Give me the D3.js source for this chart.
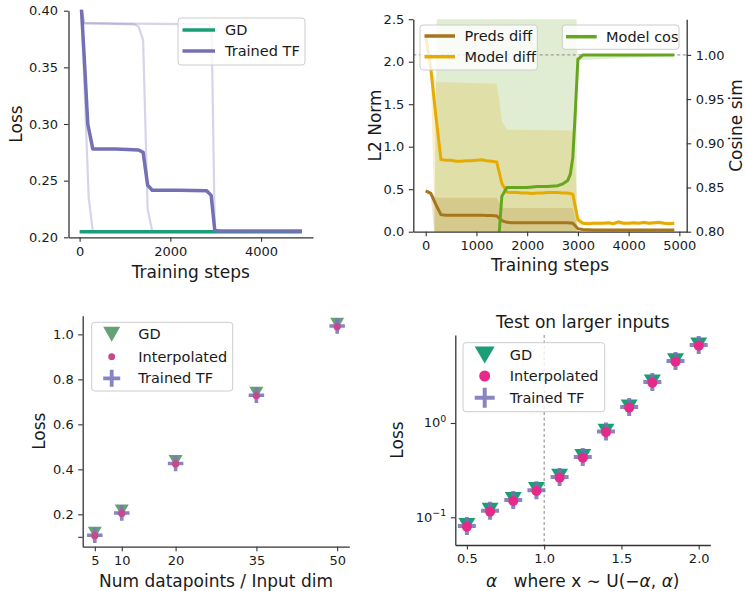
<!DOCTYPE html>
<html>
<head>
<meta charset="utf-8">
<script src="https://cdn.jsdelivr.net/npm/d3@7"></script>
<style>
  body { margin: 0; background: #fff; }
  svg text { font-family: "DejaVu Sans", sans-serif; fill: #1a1a1a; white-space: pre; }
</style>
</head>
<body>
<svg id="fig" width="746" height="591"></svg>
<script>
// ---------- Panel A: training loss curves ----------
const gdSteps = [0, 4900];
const gdLoss = [0.205, 0.205];
const tfMeanSteps = [0, 100, 180, 290, 800, 1300, 1400, 1500, 1600, 2200, 2800, 2900, 2980, 3100, 4900];
const tfMeanLoss = [0.43, 0.36, 0.30, 0.278, 0.278, 0.277, 0.275, 0.246, 0.2415, 0.2415, 0.241, 0.237, 0.206, 0.2055, 0.2055];
const runASteps = [0, 100, 200, 290, 4900];
const runALoss = [0.44, 0.34, 0.235, 0.2055, 0.2055];
const runBSteps = [0, 100, 1200, 1300, 1400, 1500, 1600, 4900];
const runBLoss = [0.41, 0.389, 0.388, 0.386, 0.374, 0.225, 0.2055, 0.2055];
const runCSteps = [0, 100, 2850, 2910, 2980, 4900];
const runCLoss = [0.41, 0.389, 0.388, 0.383, 0.2055, 0.2055];
const lossTicksA = [0.20, 0.25, 0.30, 0.35, 0.40];
const stepTicksA = [0, 2000, 4000];

// ---------- Panel B: distance / similarity to GD ----------
const normSteps = [0,100,200,300,400,500,600,700,800,900,1000,1100,1200,1300,1400,1500,1600,1700,1800,1900,
  2000,2100,2200,2300,2400,2500,2600,2700,2800,2900,3000,3100,3200,3300,3400,3500,3600,3700,3800,3900,
  4000,4100,4200,4300,4400,4500,4600,4700,4800,4900];
const modelDiff = [2.30,1.92,1.36,0.85,0.84,0.84,0.83,0.83,0.835,0.835,0.84,0.845,0.835,0.83,0.82,0.57,0.465,0.46,0.46,0.455,
  0.455,0.45,0.455,0.455,0.46,0.46,0.46,0.455,0.455,0.44,0.14,0.10,0.095,0.10,0.10,0.10,0.105,0.095,0.115,0.10,
  0.10,0.105,0.10,0.11,0.10,0.105,0.11,0.10,0.095,0.10];
const predsDiff = [0.48,0.45,0.32,0.20,0.195,0.195,0.195,0.195,0.195,0.195,0.195,0.195,0.19,0.19,0.185,0.13,0.11,0.105,0.105,0.105,
  0.105,0.105,0.105,0.105,0.105,0.105,0.105,0.105,0.105,0.10,0.035,0.025,0.022,0.02,0.02,0.02,0.02,0.02,0.02,0.02,
  0.02,0.02,0.02,0.02,0.02,0.02,0.02,0.02,0.02,0.02];
const modelBandSteps = [0, 100, 200, 1400, 1450, 1500, 1600, 2900, 2950, 3000, 3100, 4900];
const modelBandLo = [2.20, 1.85, -0.5, -0.5, -0.45, -0.4, -0.3, -0.3, -0.2, 0.07, 0.08, 0.08];
const modelBandHi = [2.40, 2.00, 1.76, 1.74, 1.55, 1.30, 1.20, 1.19, 0.70, 0.21, 0.12, 0.12];
const predsBandSteps = [0, 100, 200, 1400, 1500, 1600, 2900, 2950, 3000, 3100, 4900];
const predsBandLo = [0.46, 0.42, -0.2, -0.2, -0.15, -0.1, -0.1, -0.05, 0.01, 0.015, 0.015];
const predsBandHi = [0.50, 0.47, 0.40, 0.40, 0.285, 0.28, 0.28, 0.15, 0.05, 0.035, 0.03];
const cosSteps = [1400, 1450, 1500, 1600, 1800, 2000, 2200, 2400, 2600, 2700, 2800, 2850, 2900, 2950, 3000, 3100, 3500, 4000, 4500, 4900];
const cosSim = [0.30, 0.80, 0.84, 0.850, 0.850, 0.850, 0.851, 0.851, 0.852, 0.854, 0.858, 0.865, 0.884, 0.937, 0.995, 1.0, 1.0, 1.0, 1.0, 1.0];
const cosBandSteps = [150, 250, 2900, 2950, 2980, 3000, 4900];
const cosBandLo = [0.2, 0.2, 0.2, 0.3, 0.985, 0.994, 0.999];
const cosBandHi = [0.7, 1.2, 1.2, 1.2, 1.01, 0.998, 1.001];
const normTicks = [0, 0.5, 1.0, 1.5, 2.0, 2.5];
const cosTicks = [0.80, 0.85, 0.90, 0.95, 1.00];
const stepTicksB = [0, 1000, 2000, 3000, 4000, 5000];

// ---------- Panel C: loss vs. problem size ----------
const dimRatios = [5, 10, 20, 35, 50];
const gdLossDims = [0.118, 0.217, 0.437, 0.740, 1.047];
const interpLossDims = [0.105, 0.204, 0.424, 0.727, 1.034];
const tfLossDims = [0.107, 0.206, 0.426, 0.729, 1.037];
const dimTicks = [5, 10, 20, 35, 50];
const lossTicksC = [0.1, 0.2, 0.4, 0.6, 0.8, 1.0];

// ---------- Panel D: out-of-distribution input scale ----------
const alphas = [0.5, 0.65, 0.8, 0.95, 1.1, 1.25, 1.4, 1.55, 1.7, 1.85, 2.0];
const gdLossAlpha = [0.083, 0.120, 0.156, 0.199, 0.275, 0.446, 0.826, 1.50, 2.76, 4.62, 6.80];
const interpLossAlpha = [0.0795, 0.1148, 0.149, 0.190, 0.263, 0.428, 0.797, 1.45, 2.67, 4.47, 6.60];
const tfLossAlpha = [0.081, 0.117, 0.152, 0.194, 0.268, 0.436, 0.812, 1.48, 2.72, 4.55, 6.72];
const alphaTicks = [0.5, 1.0, 1.5, 2.0];
const trainAlpha = 1.0;

// ---------- colours ----------
const C_GD = "#1b9e77", C_TF = "#7570b3", C_INT = "#e7298a";
const C_PRED = "#a6761d", C_MODEL = "#e6ab02", C_COS = "#66a61e";
const C_GD_C = "#5d9c70", C_INT_C = "#c9478e", C_TF_C = "#7b77b8";
const SPINE = "#333";
const TICK_FS = 13;

const svg = d3.select("#fig");
const defs = svg.append("defs");
let clipId = 0;
function clip(x0, y0, x1, y1) {
  const id = "clip" + (clipId++);
  defs.append("clipPath").attr("id", id).append("rect")
    .attr("x", x0).attr("y", y0).attr("width", x1 - x0).attr("height", y1 - y0);
  return `url(#${id})`;
}

function styleAxis(sel) {
  sel.select(".domain").attr("stroke", SPINE).attr("stroke-width", 1.3);
  sel.selectAll(".tick line").attr("stroke", SPINE).attr("stroke-width", 1.1);
  sel.selectAll(".tick text").attr("font-size", TICK_FS).attr("fill", "#1a1a1a")
    .attr("font-family", "DejaVu Sans, sans-serif");
}
function axisBottom(scale, y, ticks, fmt, pad) {
  const a = d3.axisBottom(scale).tickValues(ticks).tickFormat(fmt)
    .tickSize(4.5).tickSizeOuter(0).tickPadding(pad);
  const g = svg.append("g").attr("transform", `translate(0,${y})`).call(a);
  styleAxis(g);
  return g;
}
function axisLeft(scale, x, ticks, fmt, pad) {
  const a = d3.axisLeft(scale).tickValues(ticks).tickFormat(fmt)
    .tickSize(4.5).tickSizeOuter(0).tickPadding(pad);
  const g = svg.append("g").attr("transform", `translate(${x},0)`).call(a);
  styleAxis(g);
  return g;
}
function axisRight(scale, x, ticks, fmt, pad) {
  const a = d3.axisRight(scale).tickValues(ticks).tickFormat(fmt)
    .tickSize(4.5).tickSizeOuter(0).tickPadding(pad);
  const g = svg.append("g").attr("transform", `translate(${x},0)`).call(a);
  styleAxis(g);
  return g;
}
function label(text, x, y, rotate, fs) {
  const t = svg.append("text").attr("font-size", fs || 17).attr("text-anchor", "middle").text(text);
  if (rotate) t.attr("transform", `translate(${x},${y}) rotate(-90)`);
  else t.attr("x", x).attr("y", y);
  return t;
}
function legendBox(x, y, w, h) {
  svg.append("rect").attr("x", x).attr("y", y).attr("width", w).attr("height", h)
    .attr("rx", 3).attr("fill", "#fff").attr("fill-opacity", 0.8)
    .attr("stroke", "#cccccc").attr("stroke-width", 1);
}
function legendLine(x0, x1, y, color, text, tx) {
  svg.append("line").attr("x1", x0).attr("x2", x1).attr("y1", y).attr("y2", y)
    .attr("stroke", color).attr("stroke-width", 3.5);
  svg.append("text").attr("x", tx).attr("y", y + 5).attr("font-size", 14.5).text(text);
}
const pts = (xs, ys) => d3.zip(xs, ys);
function triPath(w, h) { return `M${-w/2},${-h/2}L${w/2},${-h/2}L0,${h/2}Z`; }
function drawTri(g, x, y, w, h, color, op) {
  g.append("path").attr("d", triPath(w, h)).attr("transform", `translate(${x},${y})`)
    .attr("fill", color).attr("fill-opacity", op);
}
function drawPlus(g, x, y, s, sw, color, op) {
  g.append("path").attr("d", `M${x - s/2},${y}H${x + s/2}M${x},${y - s/2}V${y + s/2}`)
    .attr("stroke", color).attr("stroke-width", sw).attr("stroke-opacity", op).attr("fill", "none");
}
function drawDot(g, x, y, r, color) {
  g.append("circle").attr("cx", x).attr("cy", y).attr("r", r).attr("fill", color);
}

// ================= Panel A =================
{
  const X0 = 68.5, X1 = 313, Y0 = 10.7, Y1 = 237.3;
  const x = d3.scaleLinear([-245, 5145], [X0, X1]);
  const y = d3.scaleLinear([0.2, 0.4], [Y1, Y0]);
  const line = d3.line().x(d => x(d[0])).y(d => y(d[1]));
  const g = svg.append("g").attr("clip-path", clip(X0, Y0 - 1, X1, Y1));
  [[runASteps, runALoss], [runBSteps, runBLoss], [runCSteps, runCLoss]].forEach(([s, v]) => {
    g.append("path").attr("d", line(pts(s, v))).attr("fill", "none")
      .attr("stroke", C_TF).attr("stroke-opacity", 0.3).attr("stroke-width", 2.2);
  });
  g.append("path").attr("d", line(pts(gdSteps, gdLoss))).attr("fill", "none")
    .attr("stroke", C_GD).attr("stroke-width", 3.5);
  g.append("path").attr("d", line(pts(tfMeanSteps, tfMeanLoss))).attr("fill", "none")
    .attr("stroke", C_TF).attr("stroke-width", 3.5).attr("stroke-linejoin", "round");

  axisBottom(x, Y1, stepTicksA, d3.format("d"), 4.5);
  axisLeft(y, X0, lossTicksA, d3.format(".2f"), 6);
  label("Training steps", (X0 + X1) / 2, 278);
  label("Loss", 21.5, (Y0 + Y1) / 2, true);

  legendBox(178, 18, 127, 47);
  legendLine(182.5, 215, 30, C_GD, "GD", 225);
  legendLine(182.5, 215, 51, C_TF, "Trained TF", 225);
}

// ================= Panel B =================
{
  const X0 = 413.3, X1 = 686.7, Y0 = 19.2, Y1 = 231.7;
  const x = d3.scaleLinear([-245, 5145], [X0, X1]);
  const yL = d3.scaleLinear([0, 2.5], [Y1, Y0]);
  const yR = d3.scaleLinear([0.8, 1.0404], [Y1, Y0]);
  const g = svg.append("g").attr("clip-path", clip(X0, Y0, X1, Y1));
  const area = (ys) => d3.area().x(d => x(d[0])).y0(d => ys(d[1])).y1(d => ys(d[2]));
  const lineL = d3.line().x(d => x(d[0])).y(d => yL(d[1]));
  const lineR = d3.line().x(d => x(d[0])).y(d => yR(d[1]));

  // uncertainty bands
  g.append("path").attr("d", area(yR)(d3.zip(cosBandSteps, cosBandLo, cosBandHi)))
    .attr("fill", C_COS).attr("fill-opacity", 0.2);
  g.append("path").attr("d", area(yL)(d3.zip(modelBandSteps, modelBandLo, modelBandHi)))
    .attr("fill", C_MODEL).attr("fill-opacity", 0.2);
  g.append("path").attr("d", area(yL)(d3.zip(predsBandSteps, predsBandLo, predsBandHi)))
    .attr("fill", C_PRED).attr("fill-opacity", 0.2);

  // reference level: perfect alignment
  g.append("line").attr("x1", X0).attr("x2", X1).attr("y1", yR(1.0)).attr("y2", yR(1.0))
    .attr("stroke", "#888").attr("stroke-width", 1).attr("stroke-dasharray", "3,2.5");

  g.append("path").attr("d", lineL(pts(normSteps, predsDiff)))
    .attr("fill", "none").attr("stroke", C_PRED).attr("stroke-width", 3);
  g.append("path").attr("d", lineL(pts(normSteps, modelDiff)))
    .attr("fill", "none").attr("stroke", C_MODEL).attr("stroke-width", 3);
  g.append("path").attr("d", lineR(pts(cosSteps, cosSim)))
    .attr("fill", "none").attr("stroke", C_COS).attr("stroke-width", 3);

  axisBottom(x, Y1, stepTicksB, d3.format("d"), 4.5);
  axisLeft(yL, X0, normTicks, d3.format(".1f"), 4.5);
  axisRight(yR, X1, cosTicks, d3.format(".2f"), 4.5);
  label("Training steps", (X0 + X1) / 2, 271);
  label("L2 Norm", 381, (Y0 + Y1) / 2, true);
  label("Cosine sim", 742, (Y0 + Y1) / 2, true);

  legendBox(420, 25, 117.3, 45);
  legendLine(424.5, 455, 36, C_PRED, "Preds diff", 464.5);
  legendLine(424.5, 455, 56.7, C_MODEL, "Model diff", 464.5);
  legendBox(562.3, 25, 116.7, 24.3);
  legendLine(566, 596.7, 36.7, C_COS, "Model cos", 606);
}

// ================= Panel C =================
{
  const X0 = 82.7, X1 = 349.3, Y0 = 315.7, Y1 = 546.7;
  const x = d3.scaleLinear([2.75, 52.25], [X0, X1]);
  const y = d3.scaleLinear([0.056, 1.083], [Y1, Y0]);
  const g = svg.append("g");
  dimRatios.forEach((d, i) => drawTri(g, x(d), y(gdLossDims[i]), 14, 12, C_GD_C, 0.95));
  dimRatios.forEach((d, i) => drawPlus(g, x(d), y(tfLossDims[i]), 15.5, 3.6, C_TF_C, 0.9));
  dimRatios.forEach((d, i) => drawDot(g, x(d), y(interpLossDims[i]), 3.6, C_INT_C));

  axisBottom(x, Y1, dimTicks, d3.format("d"), 4.5);
  axisLeft(y, X0, lossTicksC, v => v < 0.15 ? "" : d3.format(".1f")(v), 4.5);
  label("Num datapoints / Input dim", (X0 + X1) / 2, 587);
  label("Loss", 44.5, (Y0 + Y1) / 2, true);

  legendBox(91.7, 322.3, 141, 68.7);
  const lg = svg.append("g");
  drawTri(lg, 111.7, 334.3, 17, 15, C_GD_C, 0.95);
  drawDot(lg, 111.7, 356.7, 3.4, C_INT_C);
  drawPlus(lg, 111.7, 378.3, 17, 3.8, C_TF_C, 0.9);
  [["GD", 334.3], ["Interpolated", 356.7], ["Trained TF", 378.3]].forEach(([t, yy]) =>
    svg.append("text").attr("x", 138.3).attr("y", yy + 5).attr("font-size", 14.5).text(t));
}

// ================= Panel D =================
{
  const X0 = 455.3, X1 = 710.3, Y0 = 335, Y1 = 545;
  const x = d3.scaleLinear([0.425, 2.075], [X0, X1]);
  const y = d3.scaleLog([0.0508, 8.575], [Y1, Y0]);
  const g = svg.append("g");
  g.append("line").attr("x1", x(trainAlpha)).attr("x2", x(trainAlpha)).attr("y1", Y0).attr("y2", Y1)
    .attr("stroke", "#888").attr("stroke-width", 1).attr("stroke-dasharray", "3,2.5");
  alphas.forEach((a, i) => drawTri(g, x(a), y(gdLossAlpha[i]), 17, 14, C_GD, 1));
  alphas.forEach((a, i) => drawPlus(g, x(a), y(tfLossAlpha[i]), 18, 4, C_TF, 0.85));
  alphas.forEach((a, i) => drawDot(g, x(a), y(interpLossAlpha[i]), 5, C_INT));

  axisBottom(x, Y1, alphaTicks, d3.format(".1f"), 4.5);
  // log-scale y axis with power-of-ten labels
  const ya = svg.append("g").attr("transform", `translate(${X0},0)`)
    .call(d3.axisLeft(y).tickValues([0.1, 1]).tickFormat("").tickSize(4.5).tickSizeOuter(0));
  styleAxis(ya);
  [[1, "0"], [0.1, "−1"]].forEach(([v, e]) => {
    const t = svg.append("text").attr("x", X0 - 9).attr("y", y(v) + 4.5)
      .attr("text-anchor", "end").attr("font-size", TICK_FS);
    t.append("tspan").text("10");
    t.append("tspan").attr("dy", -5.5).attr("font-size", 9.5).text(e);
  });

  svg.append("text").attr("x", (X0 + X1) / 2).attr("y", 328).attr("text-anchor", "middle")
    .attr("font-size", 17).text("Test on larger inputs");
  label("Loss", 403, (Y0 + Y1) / 2, true);
  const xl = svg.append("text").attr("x", (X0 + X1) / 2).attr("y", 587)
    .attr("text-anchor", "middle").attr("font-size", 17);
  xl.append("tspan").attr("font-style", "italic").text("α");
  xl.append("tspan").text("   where x ∼ U(−");
  xl.append("tspan").attr("font-style", "italic").text("α");
  xl.append("tspan").text(", ");
  xl.append("tspan").attr("font-style", "italic").text("α");
  xl.append("tspan").text(")");

  legendBox(463, 342.7, 141.7, 69);
  const lg = svg.append("g");
  drawTri(lg, 484.7, 355, 20, 17, C_GD, 1);
  drawDot(lg, 484.7, 376, 5.5, C_INT);
  drawPlus(lg, 484.7, 397.7, 20, 4, C_TF, 0.85);
  [["GD", 355], ["Interpolated", 376], ["Trained TF", 397.7]].forEach(([t, yy]) =>
    svg.append("text").attr("x", 509.7).attr("y", yy + 5).attr("font-size", 14.5).text(t));
}
</script>
</body>
</html>
